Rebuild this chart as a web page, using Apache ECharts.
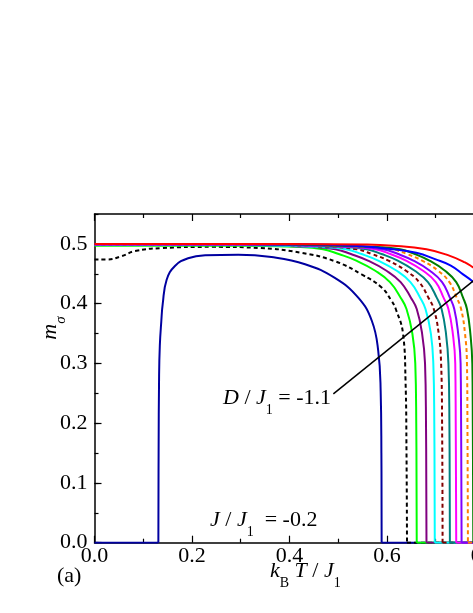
<!DOCTYPE html>
<html><head><meta charset="utf-8">
<script src="https://cdn.jsdelivr.net/npm/echarts@6/dist/echarts.min.js"></script>
<style>html,body{margin:0;padding:0;overflow:hidden;background:#fff;width:473px;height:613px}#c{width:620px;height:613px}</style>
</head><body><div id="c"></div><script>
// ---- data: [kB T / J1, m_sigma] ----
const navy = [[0,0],[0.131,0],[0.1315,0.15],[0.1325,0.28],[0.134,0.33],[0.137,0.37],[0.140,0.40],[0.148,0.440],[0.165,0.463],[0.192,0.476],[0.227,0.481],[0.295,0.482],[0.363,0.478],[0.432,0.466],[0.493,0.443],[0.541,0.41],[0.569,0.371],[0.582,0.321],[0.587,0.254],[0.5885,0.15],[0.589,0],[0.8,0]];
const blackDash = [[0,0.474],[0.026,0.474],[0.056,0.4795],[0.083,0.488],[0.138,0.493],[0.24,0.495],[0.34,0.493],[0.425,0.485],[0.493,0.471],[0.548,0.449],[0.589,0.427],[0.609,0.405],[0.618,0.391],[0.633,0.349],[0.638,0.271],[0.640,0.15],[0.641,0],[0.8,0]];
const green = [[0,0.497],[0.2,0.497],[0.3,0.497],[0.411,0.495],[0.469,0.491],[0.501,0.483],[0.537,0.472],[0.576,0.455],[0.606,0.436],[0.628,0.41],[0.640,0.391],[0.652,0.35],[0.658,0.30],[0.660,0.2],[0.661,0],[0.8,0]];
const purple = [[0,0.498],[0.3,0.498],[0.437,0.495],[0.494,0.491],[0.526,0.483],[0.561,0.472],[0.599,0.455],[0.628,0.436],[0.649,0.41],[0.661,0.391],[0.672,0.35],[0.678,0.30],[0.680,0.2],[0.681,0],[0.8,0]];
const cyan = [[0,0.498],[0.3,0.498],[0.460,0.495],[0.516,0.491],[0.548,0.483],[0.582,0.472],[0.620,0.455],[0.648,0.436],[0.668,0.41],[0.679,0.391],[0.690,0.35],[0.695,0.30],[0.697,0.2],[0.698,0],[0.8,0]];
const darkRedDash = [[0,0.499],[0.3,0.499],[0.483,0.495],[0.538,0.491],[0.569,0.483],[0.603,0.472],[0.639,0.455],[0.666,0.436],[0.685,0.41],[0.696,0.391],[0.706,0.35],[0.711,0.30],[0.713,0.2],[0.714,0],[0.8,0]];
const teal = [[0,0.499],[0.3,0.499],[0.504,0.495],[0.558,0.491],[0.589,0.483],[0.622,0.472],[0.657,0.455],[0.684,0.436],[0.702,0.41],[0.712,0.391],[0.721,0.35],[0.726,0.30],[0.728,0.2],[0.729,0],[0.8,0]];
const magenta = [[0,0.499],[0.3,0.499],[0.523,0.495],[0.576,0.491],[0.607,0.483],[0.639,0.472],[0.674,0.455],[0.700,0.436],[0.716,0.41],[0.726,0.391],[0.735,0.35],[0.740,0.30],[0.741,0.2],[0.742,0],[0.8,0]];
const violet = [[0,0.499],[0.3,0.499],[0.540,0.495],[0.592,0.491],[0.623,0.483],[0.654,0.472],[0.688,0.455],[0.713,0.436],[0.729,0.41],[0.738,0.391],[0.746,0.35],[0.751,0.30],[0.752,0.2],[0.753,0],[0.8,0]];
const orangeDash = [[0,0.5],[0.3,0.5],[0.560,0.495],[0.611,0.491],[0.641,0.483],[0.672,0.472],[0.705,0.455],[0.728,0.436],[0.743,0.41],[0.752,0.391],[0.760,0.35],[0.764,0.30],[0.765,0.2],[0.766,0],[0.8,0]];
const darkGreen = [[0,0.5],[0.3,0.5],[0.577,0.495],[0.627,0.491],[0.657,0.483],[0.687,0.472],[0.719,0.455],[0.742,0.436],[0.756,0.41],[0.764,0.391],[0.771,0.35],[0.775,0.30],[0.776,0.2],[0.777,0],[0.8,0]];
const blue = [[0,0.5],[0.3,0.5],[0.45,0.499],[0.55,0.496],[0.612,0.491],[0.66,0.485],[0.70,0.474],[0.73,0.464],[0.756,0.449],[0.776,0.437],[0.8,0.42]];
const red = [[0,0.5],[0.4,0.5],[0.55,0.499],[0.612,0.497],[0.681,0.491],[0.729,0.480],[0.76,0.469],[0.776,0.461],[0.8,0.448]];
const pointerLine = [[0.490,0.249],[0.777,0.438]];

const F = 'Liberation Serif';
const chart = echarts.init(document.getElementById('c'), null, {renderer:'canvas'});

// split a curve into leading zero part, non-zero (smoothed) body, trailing zero part
function curve(data, color, dashed){
  let i = data.findIndex(p => p[1] > 0);
  let j = data.length - 1; while (j >= 0 && data[j][1] <= 0) j--;
  const parts = [];
  const style = {color, width:2, type: dashed ? [4,3] : 'solid'};
  const mk = (d, smooth) => ({type:'line', data:d, showSymbol:false, smooth, silent:true, lineStyle:style, xAxisIndex:0, yAxisIndex:0});
  if (i > 0) parts.push(mk(data.slice(0, i), false));
  parts.push(mk(data.slice(Math.max(i-1,0), Math.min(j+2, data.length)), 0.45));
  if (j < data.length - 2) parts.push(mk(data.slice(j+1), false));
  return parts;
}
const axisTxt = {fontFamily:F, fontSize:22, color:'#000'};
const R = {
  i:{fontFamily:F, fontStyle:'italic', fontSize:22, lineHeight:22, verticalAlign:'top', fill:'#000'},
  n:{fontFamily:F, fontSize:22, lineHeight:22, verticalAlign:'top', fill:'#000'},
  s:{fontFamily:F, fontSize:14, lineHeight:14, padding:[16,0,0,0], verticalAlign:'top', fill:'#000'}
};
function T(x, y, text){
  return {type:'text', x, y, silent:true, z:100,
    style:{text, rich:R, align:'left', verticalAlign:'top', fill:'#000', fontFamily:F, fontSize:22}};
}
const series = [].concat(
  curve(navy,'#0000A0'),
  curve(blackDash,'#000000',true),
  curve(green,'#00FF00'),
  curve(purple,'#800080'),
  curve(cyan,'#00FFFF'),
  curve(darkRedDash,'#800000',true),
  curve(teal,'#008080'),
  curve(magenta,'#FF00FF'),
  curve(violet,'#8000FF'),
  curve(orangeDash,'#FF8000',true),
  curve(darkGreen,'#008000'),
  curve(blue,'#0000FF'),
  curve(red,'#FF0000'),
  [{type:'line', data:pointerLine, showSymbol:false, silent:true, z:5, lineStyle:{color:'#000', width:1.5}}]
);
const option = {
  animation:false,
  grid:{left:94.5, top:214, width:390, height:328.7, containLabel:false},
  xAxis:[
    {type:'value', min:0, max:0.8, interval:0.2, position:'bottom',
     axisLine:{show:true, onZero:false, lineStyle:{color:'#000', width:1.5}},
     axisTick:{show:true, inside:true, length:7, lineStyle:{color:'#000', width:1.2}},
     minorTick:{show:true, splitNumber:2, length:4, lineStyle:{color:'#000', width:1.2}},
     splitLine:{show:false},
     axisLabel:Object.assign({margin:3, formatter:v=>v.toFixed(1)}, axisTxt)},
    {type:'value', min:0, max:0.8, interval:0.2, position:'top',
     axisLine:{show:true, onZero:false, lineStyle:{color:'#000', width:1.5}},
     axisTick:{show:true, inside:true, length:7, lineStyle:{color:'#000', width:1.2}},
     minorTick:{show:true, splitNumber:2, length:4, lineStyle:{color:'#000', width:1.2}},
     splitLine:{show:false}, axisLabel:{show:false}}
  ],
  yAxis:[
    {type:'value', min:0, max:0.55, interval:0.1, position:'left',
     axisLine:{show:true, onZero:false, lineStyle:{color:'#000', width:1.5}},
     axisTick:{show:true, inside:true, length:7, lineStyle:{color:'#000', width:1.2}},
     splitLine:{show:false},
     axisLabel:Object.assign({margin:7, showMaxLabel:false, formatter:v=>(Math.abs(v*10-Math.round(v*10))<1e-6)?v.toFixed(1):''}, axisTxt)},
    {type:'value', min:0, max:0.55, interval:0.05, position:'left',
     axisLine:{show:false},
     axisTick:{show:true, inside:true, length:4, lineStyle:{color:'#000', width:1.2}},
     splitLine:{show:false}, axisLabel:{show:false}}
  ],
  series,
  graphic:[
    T(223, 387, '{i|D}{n| / }{i|J}{s|1}{n| = -1.1}'),
    T(210, 509, '{i|J}{n| / }{i|J}{s|1}{n|  = -0.2}'),
    T(270, 560, '{i|k}{s|B}{n| }{i|T}{n| / }{i|J}{s|1}'),
    T(57, 565, '{n|(a)}'),
    {type:'text', x:50, y:328, rotation:Math.PI/2, silent:true, z:100,
     style:{text:'{i|m}{si|σ}', align:'center', verticalAlign:'middle',
       rich:{i:R.i, si:{fontFamily:F, fontStyle:'italic', fontSize:15, lineHeight:15, padding:[15,0,0,0], verticalAlign:'top', fill:'#000'}}}}
  ]
};
chart.setOption(option);
</script></body></html>
